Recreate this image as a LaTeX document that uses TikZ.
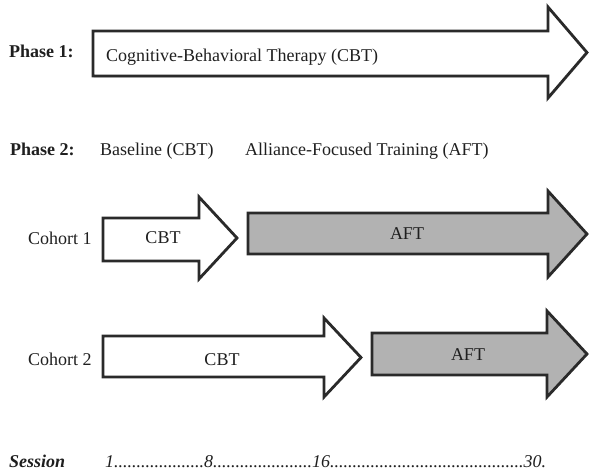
\documentclass[tikz,border=0pt]{standalone}
\usepackage{fontspec}
\setmainfont{Liberation Serif}
\usetikzlibrary{shadows}
\definecolor{edgegray}{HTML}{2A2A2A}
\definecolor{aftgray}{HTML}{B2B2B2}
\tikzset{
  fatarr/.style={draw=edgegray, line width=2.8pt, line join=miter, miter limit=10, fill=white},
  aftarr/.style={fatarr, fill=aftgray},
  lbl/.style={font=\fontsize{18}{21}\selectfont, inner sep=0pt, anchor=base west, text=black!88},
  clbl/.style={lbl, anchor=base},
  blbl/.style={lbl, font=\fontsize{18}{21}\selectfont\bfseries},
}
% #1 left, #2 head start, #3 tip, #4 body top, #5 body bottom, #6 head top, #7 head bottom, #8 style
\newcommand\fatarrowpath[8]{%
  \path[#8] (#1,#4) -- (#2,#4) -- (#2,#6) -- (#3,{(#6+#7)/2}) -- (#2,#7) -- (#2,#5) -- (#1,#5) -- cycle;}
\begin{document}
\begin{tikzpicture}[x=1pt,y=-1pt]
\useasboundingbox (0,0) rectangle (592,473);

% Phase 1
\fatarrowpath{93}{548}{587}{31}{76}{7}{98}{fatarr, drop shadow={shadow xshift=0.5pt, shadow yshift=-2pt, opacity=0.25}}
\node[blbl] (p1) at (9,58) {Phase 1:};
\node[lbl] (cbtlong) at (106,62) {Cognitive-Behavioral Therapy (CBT)};

% Phase 2 header
\node[blbl] (p2) at (10,156) {Phase 2:};
\node[lbl] (base) at (100,156) {Baseline (CBT)};
\node[lbl] (afttitle) at (245,156) {Alliance-Focused Training (AFT)};

% Cohort 1
\fatarrowpath{103}{199}{237}{218}{261}{197}{279}{fatarr}
\fatarrowpath{248}{548}{587}{213}{254}{191}{277}{aftarr}
\node[lbl] (c1) at (28,245) {Cohort 1};
\node[clbl] (cbt1) at (163,244) {CBT};
\node[clbl] (aft1) at (407,240) {AFT};

% Cohort 2
\fatarrowpath{103}{324}{361}{336}{377}{318}{397}{fatarr}
\fatarrowpath{372}{547}{587}{333}{375}{311}{397}{aftarr}
\node[lbl] (c2) at (28,365) {Cohort 2};
\node[clbl] (cbt2) at (222,365) {CBT};
\node[clbl] (aft2) at (468,360) {AFT};

% Session timeline
\node[lbl, font=\fontsize{18}{21}\selectfont\bfseries\itshape] (sess) at (9,467) {Session};
\node[lbl, font=\fontsize{18}{21}\selectfont\itshape] (seq) at (105,467)
  {1....................8......................16...........................................30.};
\end{tikzpicture}
\end{document}
